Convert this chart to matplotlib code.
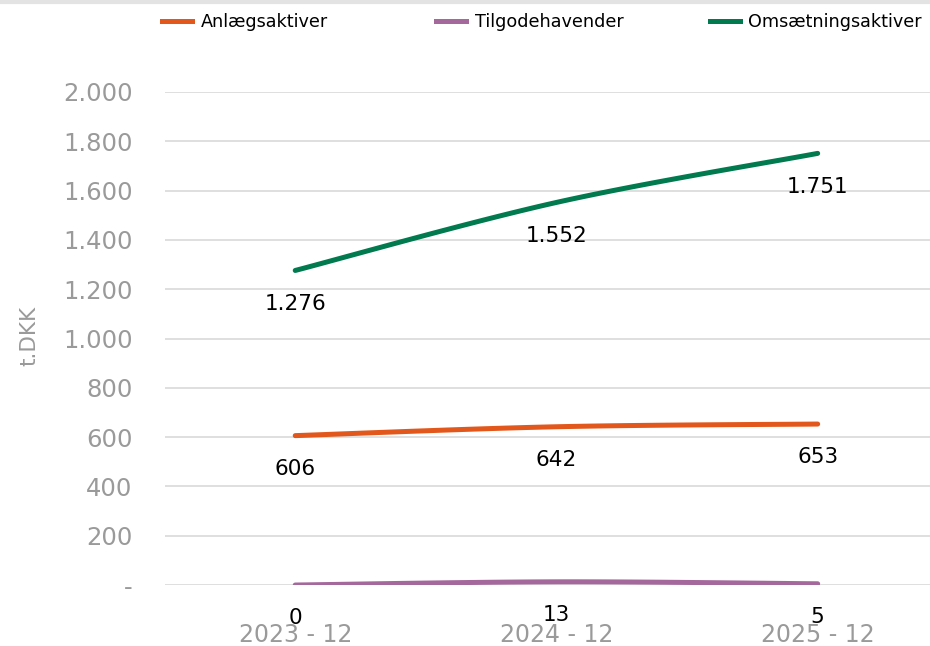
import numpy as np
import matplotlib.pyplot as plt
from matplotlib.lines import Line2D
from matplotlib.ticker import FuncFormatter

# data
perioder = ['2023 - 12', '2024 - 12', '2025 - 12']
anlaeg = [606, 642, 653]
tilgode = [0, 13, 5]
omsaetning = [1276, 1552, 1751]

serier = [('Anlægsaktiver', anlaeg, '#E2571B'),
          ('Tilgodehavender', tilgode, '#A5689D'),
          ('Omsætningsaktiver', omsaetning, '#007A4E')]


def glat(x, y, n=40):
    # catmull-rom som Excels "udjævnet linje"
    x = np.asarray(x, float)
    y = np.asarray(y, float)
    px = np.concatenate([[x[0]], x, [x[-1]]])
    py = np.concatenate([[y[0]], y, [y[-1]]])
    xs, ys = [], []
    t = np.linspace(0, 1, n)
    for i in range(1, len(px) - 2):
        p0, p1, p2, p3 = [np.array([px[j], py[j]]) for j in range(i - 1, i + 3)]
        c1 = p1 + (p2 - p0) / 6
        c2 = p2 - (p3 - p1) / 6
        b = ((1 - t) ** 3)[:, None] * p1 + (3 * (1 - t) ** 2 * t)[:, None] * c1 \
            + (3 * (1 - t) * t ** 2)[:, None] * c2 + (t ** 3)[:, None] * p2
        xs.extend(b[:, 0])
        ys.extend(b[:, 1])
    return xs, ys


fig = plt.figure(figsize=(9.3, 6.46), dpi=100)
ax = fig.add_axes([0.177, 0.0944, 0.823, 0.7632])

x = np.arange(len(perioder))
for navn, vaerdier, farve in serier:
    gx, gy = glat(x, vaerdier)
    ax.plot(gx, gy, color=farve, lw=3.6, solid_capstyle='round', zorder=3)
    for xi, v in zip(x, vaerdier):
        ax.annotate(f'{v:,}'.replace(',', '.'), (xi, v), xytext=(0, -24),
                    textcoords='offset points', ha='center', va='center',
                    fontsize=15.5, color='black', zorder=4)

ax.set_xlim(-0.5, 2.43)
ax.set_ylim(0, 2000)
ax.set_yticks(np.arange(0, 2001, 200))
ax.yaxis.set_major_formatter(FuncFormatter(lambda v, p: '-' if v == 0 else f'{int(v):,}'.replace(',', '.')))
ax.set_xticks(x)
ax.set_xticklabels(perioder)
ax.tick_params(axis='y', length=0, labelsize=17.5, labelcolor='#9A9A9A', pad=23)
ax.tick_params(axis='x', length=0, labelsize=17, labelcolor='#9A9A9A', pad=27)
ax.grid(axis='y', color='#D9D9D9', lw=1.2)
ax.set_axisbelow(True)
for s in ax.spines.values():
    s.set_visible(False)
ax.set_ylabel('t.DKK', fontsize=15.5, color='#9A9A9A')
ax.yaxis.set_label_coords(-0.163, 0.505)

# forklaring: tre lige brede felter som i Excel
for i, (navn, _, farve) in enumerate(serier):
    leg = fig.legend([Line2D([], [], color=farve, lw=3.6)], [navn], loc='center left',
                     bbox_to_anchor=(0.174 + i * 0.2945, 0.966), frameon=False, fontsize=12.7,
                     handlelength=1.7, handletextpad=0.5, borderpad=0, borderaxespad=0)

# grå kant i toppen
fig.add_artist(Line2D([0, 1], [0.997, 0.997], color='#E3E3E3', lw=3, transform=fig.transFigure))

plt.savefig('out.png', dpi=100)
